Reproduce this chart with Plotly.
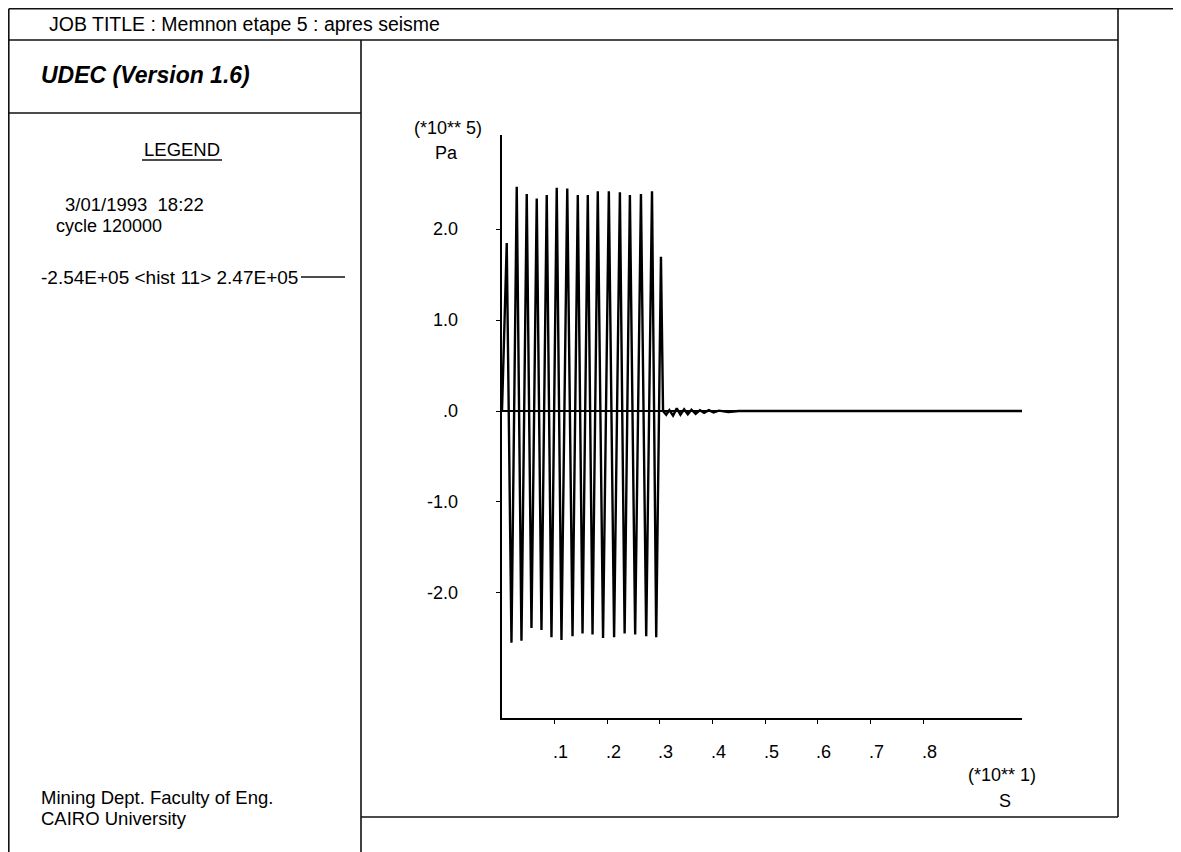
import plotly.graph_objects as go

# UDEC history plot: pressure (x1e5 Pa) against time (x10 s)
peak_t = [0.009, 0.028, 0.047, 0.066, 0.085, 0.104, 0.124, 0.144,
          0.163, 0.182, 0.203, 0.224, 0.243, 0.264, 0.285, 0.302]
peak_p = [1.85, 2.47, 2.39, 2.34, 2.38, 2.46, 2.45, 2.38,
          2.38, 2.42, 2.42, 2.41, 2.38, 2.39, 2.42, 1.70]
trough_t = [0.018, 0.037, 0.056, 0.075, 0.094, 0.113, 0.134, 0.153,
            0.172, 0.192, 0.213, 0.233, 0.253, 0.274, 0.293]
trough_p = [-2.55, -2.53, -2.39, -2.41, -2.49, -2.52, -2.48, -2.45,
            -2.46, -2.50, -2.49, -2.45, -2.46, -2.48, -2.49]
tail_t = [0.306, 0.312, 0.318, 0.325, 0.332, 0.339, 0.346, 0.353, 0.360,
          0.368, 0.376, 0.384, 0.393, 0.402, 0.412, 0.430, 0.450, 0.988]
tail_p = [0.0, -0.04, 0.01, -0.05, 0.03, -0.04, 0.02, -0.035, 0.015,
          -0.03, 0.01, -0.02, 0.01, -0.015, 0.005, -0.01, 0.0, 0.0]

x_ticks = [0.1, 0.2, 0.3, 0.4, 0.5, 0.6, 0.7, 0.8]
x_tick_text = ['.1', '.2', '.3', '.4', '.5', '.6', '.7', '.8']
y_ticks = [2, 1, 0, -1, -2]
y_tick_text = ['2.0', '1.0', '.0', '-1.0', '-2.0']

W, H = 1181, 852
OFF = 8  # page body margin in front of the figure
FONT = 'Liberation Sans, Arial, sans-serif'


def px(x):
    return (x - OFF) / W


def py(y):
    return 1 - (y - OFF) / H


# stitch the record together: start, peak/trough pairs, then the decay
t = [0.0]
p = [0.0]
for i in range(len(peak_t)):
    t.append(peak_t[i])
    p.append(peak_p[i])
    if i < len(trough_t):
        t.append(trough_t[i])
        p.append(trough_p[i])
t += tail_t
p += tail_p

fig = go.Figure()
fig.add_trace(go.Scatter(x=t, y=p, mode='lines',
                         line=dict(color='black', width=2.4),
                         hoverinfo='skip', showlegend=False))

fig.update_layout(
    width=W, height=H,
    margin=dict(l=0, r=0, t=0, b=0),
    paper_bgcolor='white', plot_bgcolor='white',
    font=dict(family=FONT, size=18, color='black'),
    showlegend=False,
    xaxis=dict(domain=[px(502), px(1022)], range=[0, 0.988],
               showline=True, linecolor='black', linewidth=1.6,
               ticks='outside', ticklen=4, tickcolor='black',
               tickvals=x_ticks, showticklabels=False,
               showgrid=False, zeroline=False, fixedrange=True),
    yaxis=dict(domain=[py(718), py(135)], range=[-3.38, 3.04],
               showline=True, linecolor='black', linewidth=1.6,
               ticks='outside', ticklen=4, tickcolor='black',
               tickvals=y_ticks, showticklabels=False,
               showgrid=False, zeroline=True, zerolinecolor='black',
               zerolinewidth=1.6, fixedrange=True),
)

# frame of the UDEC plot sheet (top/left edges sit right at the page margin)
frame = [
    (8.8, 8.8, 1181, 8.8), (8.8, 8.8, 8.8, 852), (8.8, 40, 1118, 40),
    (1118, 8.8, 1118, 817), (361, 40, 361, 852), (8.8, 113, 361, 113),
    (361, 817, 1118, 817),
    (142, 160, 222, 160),   # LEGEND underline
    (301, 277, 345, 277),   # legend line sample
]
shapes = []
for x0, y0, x1, y1 in frame:
    shapes.append(dict(type='line', xref='paper', yref='paper',
                       x0=px(x0), y0=py(y0), x1=px(x1), y1=py(y1),
                       line=dict(color='#111', width=1.6)))
fig.update_layout(shapes=shapes)

notes = [
    ('JOB TITLE : Memnon etape 5 : apres seisme', 47, 24, 'left', 19.5),
    ('<b><i>UDEC (Version 1.6)</i></b>', 39, 75, 'left', 23),
    ('LEGEND', 182, 149, 'center', 18.5),
    ('3/01/1993\u00a0\u00a018:22', 63, 205, 'left', 18.5),
    ('cycle 120000', 54, 226, 'left', 18),
    ('-2.54E+05 &lt;hist 11&gt; 2.47E+05', 39, 277, 'left', 19),
    ('Mining Dept. Faculty of Eng.', 39, 797, 'left', 18.5),
    ('CAIRO University', 39, 818, 'left', 18.5),
    ('(*10** 5)', 448, 128, 'center', 18),
    ('Pa', 446, 153, 'center', 18),
    ('(*10** 1)', 1002, 775, 'center', 18),
    ('S', 1005, 801, 'center', 18),
]
for text, x, y, anchor, size in notes:
    fig.add_annotation(text=text, xref='paper', yref='paper',
                       x=px(x), y=py(y), xanchor=anchor, yanchor='middle',
                       showarrow=False, font=dict(size=size))

for v, s in zip(y_ticks, y_tick_text):
    fig.add_annotation(text=s, xref='paper', yref='y', x=px(460), y=v,
                       xanchor='right', yanchor='middle', showarrow=False)

for v, s in zip(x_ticks, x_tick_text):
    fig.add_annotation(text=s, xref='x', yref='paper', x=v, y=py(752),
                       xshift=6, xanchor='center', yanchor='middle',
                       showarrow=False)

fig.write_html("out.html")
